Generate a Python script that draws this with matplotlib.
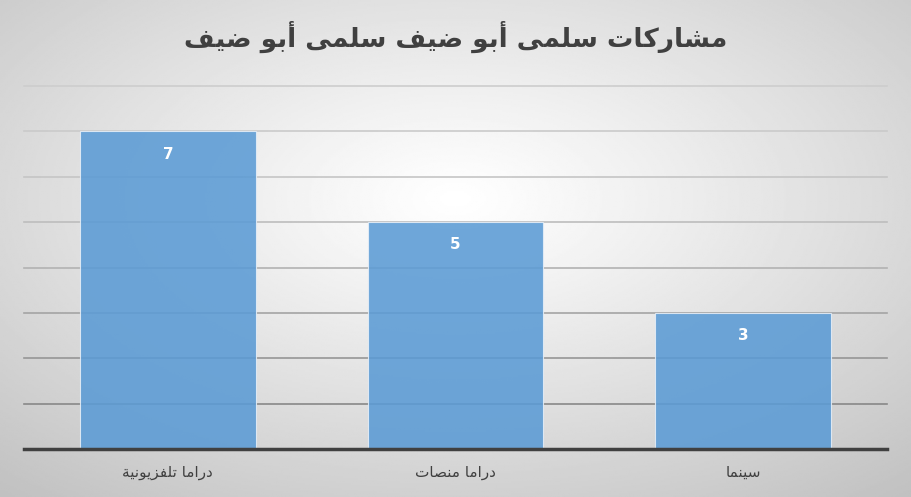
"""Bar chart of Salma Abu Deif's appearances, Excel style."""

import numpy as np
import matplotlib
matplotlib.use("Agg")
import matplotlib.pyplot as plt

title = "مشاركات سلمى أبو ضيف سلمى أبو ضيف"
categories = ["دراما تلفزيونية", "دراما منصات", "سينما"]
values = [7, 5, 3]

# Arabic presentation forms: isolated, final, initial, medial
FORMS = {
    "ا": ("\uFE8D", "\uFE8E", None, None),
    "أ": ("\uFE83", "\uFE84", None, None),
    "ب": ("\uFE8F", "\uFE90", "\uFE91", "\uFE92"),
    "ة": ("\uFE93", "\uFE94", None, None),
    "ت": ("\uFE95", "\uFE96", "\uFE97", "\uFE98"),
    "د": ("\uFEA9", "\uFEAA", None, None),
    "ر": ("\uFEAD", "\uFEAE", None, None),
    "ز": ("\uFEAF", "\uFEB0", None, None),
    "س": ("\uFEB1", "\uFEB2", "\uFEB3", "\uFEB4"),
    "ش": ("\uFEB5", "\uFEB6", "\uFEB7", "\uFEB8"),
    "ص": ("\uFEB9", "\uFEBA", "\uFEBB", "\uFEBC"),
    "ض": ("\uFEBD", "\uFEBE", "\uFEBF", "\uFEC0"),
    "ف": ("\uFED1", "\uFED2", "\uFED3", "\uFED4"),
    "ك": ("\uFED9", "\uFEDA", "\uFEDB", "\uFEDC"),
    "ل": ("\uFEDD", "\uFEDE", "\uFEDF", "\uFEE0"),
    "م": ("\uFEE1", "\uFEE2", "\uFEE3", "\uFEE4"),
    "ن": ("\uFEE5", "\uFEE6", "\uFEE7", "\uFEE8"),
    "و": ("\uFEED", "\uFEEE", None, None),
    "ى": ("\uFEEF", "\uFEF0", None, None),
    "ي": ("\uFEF1", "\uFEF2", "\uFEF3", "\uFEF4"),
}


def shape(text):
    """Join Arabic letters and reverse for left-to-right drawing."""
    out = []
    for i, ch in enumerate(text):
        if ch not in FORMS:
            out.append(ch)
            continue
        prev = text[i - 1] if i > 0 else " "
        nxt = text[i + 1] if i + 1 < len(text) else " "
        join_prev = prev in FORMS and FORMS[prev][2] is not None
        join_next = FORMS[ch][2] is not None and nxt in FORMS
        iso, fin, ini, med = FORMS[ch]
        if join_prev and join_next:
            out.append(med)
        elif join_prev:
            out.append(fin)
        elif join_next:
            out.append(ini)
        else:
            out.append(iso)
    return "".join(out)[::-1]


fig = plt.figure(figsize=(9.11, 4.97), dpi=100)

# Radial gradient background, brightest a little above the middle
bg = fig.add_axes([0, 0, 1, 1], zorder=-10)
yy, xx = np.mgrid[-1:1:300j, -1:1:500j]
r = np.sqrt(xx ** 2 + (yy + 0.2) ** 2) / np.sqrt(2)
shade = 1.0 - 0.22 * np.clip(r, 0, 1.1) ** 1.1
bg.imshow(shade, cmap="gray", vmin=0, vmax=1, aspect="auto", extent=[0, 1, 0, 1])
bg.axis("off")

ax = fig.add_axes([24 / 911, 48 / 497, 863 / 911, 363 / 497])
ax.patch.set_alpha(0)
x = np.arange(len(categories))

# Gridlines fade from dark at the bottom to light at the top
grid_shades = ["#888888", "#969696", "#a4a4a4", "#b2b2b2",
               "#bdbdbd", "#c5c5c5", "#cacaca", "#cdcdcd"]
for level, col in enumerate(grid_shades, start=1):
    ax.axhline(level, color=col, linewidth=1.2, zorder=1, clip_on=False)

bars = ax.bar(x, values, width=0.61, color="#5b9bd5", alpha=0.88,
              edgecolor="#e6eef7", linewidth=0.8, zorder=3)
for b, v in zip(bars, values):
    ax.text(b.get_x() + b.get_width() / 2, v - 0.5, str(v), ha="center",
            va="center", color="white", fontsize=11, fontweight="bold",
            family="DejaVu Sans", zorder=4)

ax.set_xlim(-0.5, len(categories) - 0.5)
ax.set_ylim(0, 8)
ax.set_yticks([])
ax.tick_params(axis="x", bottom=False, pad=8)
ax.set_xticks(x)
ax.set_xticklabels([shape(c) for c in categories], fontsize=11,
                   color="#404040", family="DejaVu Sans")
for side in ["top", "left", "right"]:
    ax.spines[side].set_visible(False)
ax.spines["bottom"].set_color("#404040")
ax.spines["bottom"].set_linewidth(2.5)
ax.spines["bottom"].set_zorder(5)

fig.text(0.5, 0.925, shape(title), ha="center", va="center", fontsize=19,
         fontweight="bold", color="#404040", family="DejaVu Sans")

fig.savefig("out.png", dpi=100)
